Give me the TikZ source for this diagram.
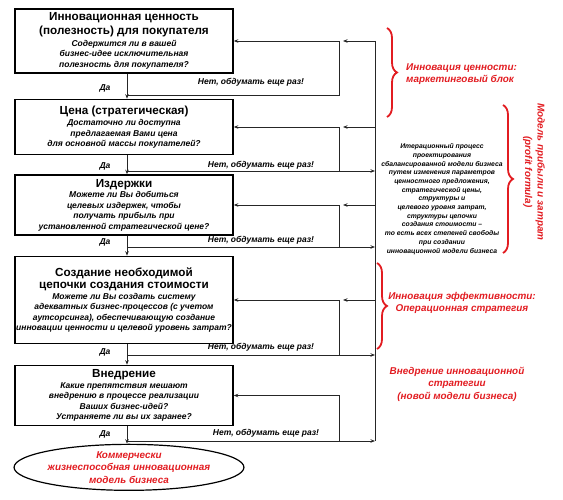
\documentclass[tikz,border=0pt]{standalone}
\usepackage{fontspec}
\setmainfont{Liberation Sans}
\usetikzlibrary{positioning,shapes.geometric,arrows.meta,decorations.pathreplacing}

\definecolor{markred}{RGB}{226,28,33}
\newcommand{\stagefont}{\fontsize{11.7}{14.5}\selectfont\bfseries\upshape}
\newcommand{\askfont}{\fontsize{8.5}{10.5}\selectfont\bfseries\itshape}
\newcommand{\notefont}{\fontsize{9.9}{12.5}\selectfont\bfseries\itshape}

\begin{document}
\begin{tikzpicture}[x=1pt,y=1pt]

% definitions
\tikzstyle{stage} = [rectangle, minimum width=218pt, align=center, draw=black, line width=1.5pt, inner xsep=0pt, inner ysep=1pt, font=\askfont]

\tikzstyle{goal} = [ellipse, minimum width=222pt, minimum height=46pt, align=center, draw=black, line width=1.2pt, inner sep=0pt, text=markred, font=\notefont]

\tikzstyle{yes} = [font=\askfont, inner sep=0pt]

\tikzstyle{no} = [font=\fontsize{8.5}{9}\selectfont\bfseries\itshape, inner sep=0pt]

\tikzstyle{note} = [align=center, text=markred, font=\notefont, inner sep=0pt]

\tikzstyle{iternote} = [align=center, font=\fontsize{6.8}{8.7}\selectfont\bfseries\itshape, inner sep=0pt]

\tikzstyle{arrow} = [-{Stealth[length=4.5pt,width=3.5pt]}, draw=black!85, line width=0.8pt]

\tikzstyle{line} = [draw=black!85, line width=0.8pt]

\tikzstyle{brace} = [draw=markred, line width=1.8pt, decorate, decoration={brace, amplitude=10pt}]

\useasboundingbox (0,0) rectangle (563,500);

% the graph
\node (b1) [stage, minimum height=64pt] at (124,459) {{\stagefont Инновационная ценность}\\[2pt]{\stagefont (полезность) для покупателя}\\[1pt]Содержится ли в вашей\\бизнес-идее исключительная\\полезность для покупателя?};

\node (b2) [stage, minimum height=55pt, below=25pt of b1] {{\stagefont Цена (стратегическая)}\\[1pt]Достаточно ли доступна\\предлагаемая Вами цена\\для основной массы покупателей?};

\node (b3) [stage, minimum height=60pt, below=19pt of b2] {{\stagefont Издержки}\\Можете ли Вы добиться\\целевых издержек, чтобы\\получать прибыль при\\установленной стратегической цене?};

\node (b4) [stage, minimum height=87pt, below=20pt of b3] {{\stagefont Создание необходимой}\\[2pt]{\stagefont цепочки создания стоимости}\\Можете ли Вы создать систему\\адекватных бизнес-процессов (с учетом\\аутсорсинга), обеспечивающую создание\\инновации ценности и целевой уровень затрат?};

\node (b5) [stage, minimum height=60pt, below=20.5pt of b4] {{\stagefont Внедрение}\\Какие препятствия мешают\\внедрению в процессе реализации\\Ваших бизнес-идей?\\Устраняете ли вы их заранее?};

\node (goal) [goal, below=17.5pt of b5, xshift=5pt] {Коммерчески\\жизнеспособная инновационная\\модель бизнеса};

% yes / no
\node (da1) [yes] at (105,412) {Да};
\node (da2) [yes] at (105,334) {Да};
\node (da3) [yes] at (105,258) {Да};
\node (da4) [yes] at (105,148) {Да};
\node (da5) [yes] at (105,66) {Да};

\node (net1) [no] at (251,418) {Нет, обдумать еще раз!};
\node (net2) [no] at (261,335) {Нет, обдумать еще раз!};
\node (net3) [no] at (261,260) {Нет, обдумать еще раз!};
\node (net4) [no] at (261,153) {Нет, обдумать еще раз!};
\node (net5) [no] at (266,67) {Нет, обдумать еще раз!};

\coordinate (no1) at (127,405);
\coordinate (no2) at (127,329);
\coordinate (no3) at (127,253);
\coordinate (no4) at (127,145);
\coordinate (no5) at (127,59);
\coordinate (loopx) at (339,0);
\coordinate (backx) at (375,0);

\draw [arrow] ([xshift=3pt]b1.south) -- ([xshift=3pt]b2.north);
\draw [arrow] ([xshift=3pt]b2.south) -- ([xshift=3pt]b3.north);
\draw [arrow] ([xshift=3pt]b3.south) -- ([xshift=3pt]b4.north);
\draw [arrow] ([xshift=3pt]b4.south) -- ([xshift=3pt]b5.north);
\draw [arrow] ([xshift=3pt]b5.south) -- ([xshift=3pt]b5.south |- goal.north);

% loops back
\draw [arrow] (no1) -| (b1.east -| loopx) -- (b1.east);
\draw [arrow] (no2) -| (b2.east -| loopx) -- (b2.east);
\draw [arrow] (no3) -| (b3.east -| loopx) -- (b3.east);
\draw [arrow] (no4) -| (b4.east -| loopx) -- (b4.east);
\draw [arrow] (no5) -| (b5.east -| loopx) -- (b5.east);

\draw [arrow] (no2) -- (no2 -| backx);
\draw [arrow] (no3) -- (no3 -| backx);
\draw [arrow] (no4) -- (no4 -| backx);
\draw [arrow] (no5) -- (no5 -| backx);

\draw [line] (b1.east -| backx) -- (no5 -| backx);
\draw [arrow] (b1.east -| backx) -- ([xshift=4pt]b1.east -| loopx);
\draw [arrow] (b2.east -| backx) -- ([xshift=4pt]b2.east -| loopx);
\draw [arrow] (b3.east -| backx) -- ([xshift=4pt]b3.east -| loopx);
\draw [arrow] (b4.east -| backx) -- ([xshift=4pt]b4.east -| loopx);

% notes
\draw [brace] (387,472) -- (387,383);
\draw [brace] (503,395) -- (503,247);
\draw [brace] (377,237) -- (377,151);

\node (value) [note, align=left, anchor=west] at (406,426) {Инновация ценности:\\маркетинговый блок};

\node (iter) [iternote] at (442,301) {Итерационный процесс\\проектирования\\сбалансированной модели бизнеса\\путем изменения параметров\\ценностного предложения,\\стратегической цены,\\структуры и\\целевого уровня затрат,\\структуры цепочки\\создания стоимости –\\то есть всех степеней свободы\\при создании\\инновационной модели бизнеса};

\node (profit) [note, rotate=-90] at (534,328) {Модель прибыли и затрат\\(profit formula)};

\node (efficiency) [note] at (462,197) {Инновация эффективности:\\Операционная стратегия};

\node (launch) [note] at (457,116) {Внедрение инновационной\\стратегии\\(новой модели бизнеса)};

\end{tikzpicture}
\end{document}
